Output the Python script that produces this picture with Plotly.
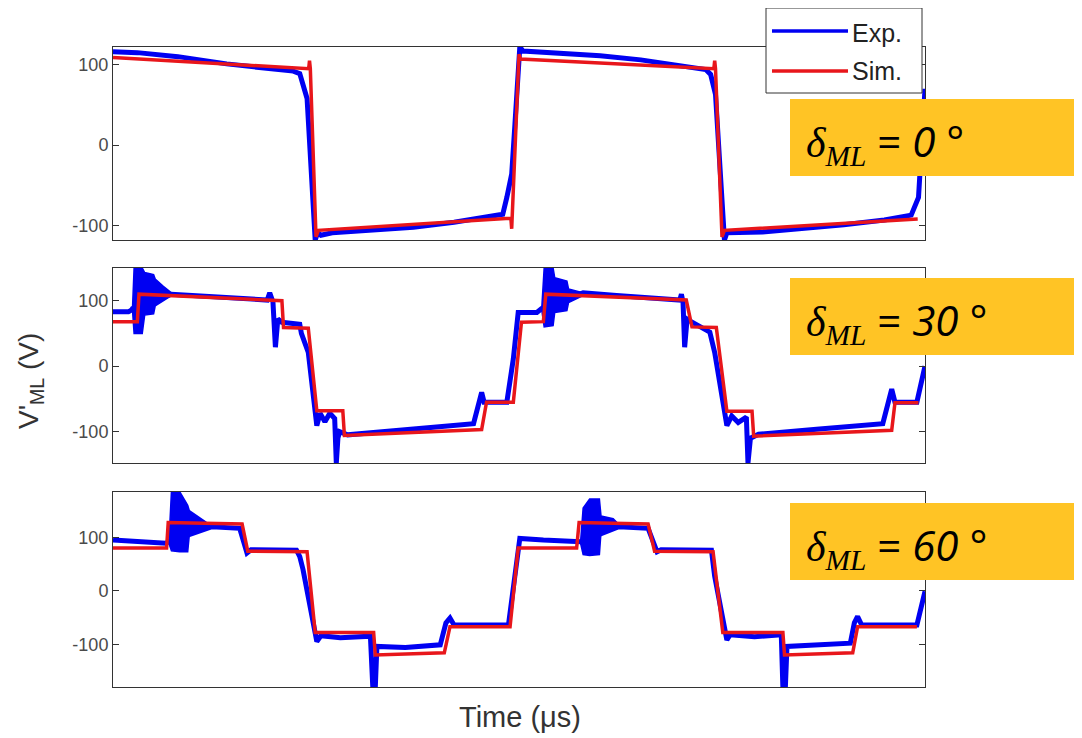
import plotly.graph_objects as go

# ---------------- data (time in µs, voltage in V) ----------------
# delta_ML = 0 deg (top panel)
t_exp0 = [0, 3, 8, 14, 22.2, 23.0, 23.9, 24.9, 25.2, 25.6, 27, 32, 37, 42, 45.2, 48.0, 48.5, 49.1, 49.5, 49.9,
          50.1, 50.5, 55, 60, 65, 70, 73.0, 73.6, 74.2, 75.3, 75.6, 80, 85, 90, 95, 98.3, 99.2, 100]
v_exp0 = [116, 115, 110, 101, 92, 89, 58, -118, -109, -112, -109, -106, -102, -96, -91, -86, -65, -36, 26, 95,
          122, 117, 114, 111, 106, 99, 94, 88, 63, -118, -109, -108, -104, -99, -93, -87, -65, 70]
t_sim0 = [0, 24.1, 24.2, 24.3, 25.0, 25.3, 49.0, 49.1, 50.0, 50.2, 74.0, 74.1, 74.2, 75.0, 75.3, 99.1]
v_sim0 = [109, 95, 105, 95, -114, -106, -91, -104, 113, 107, 95, 105, 95, -114, -106, -92]

# delta_ML = 30 deg (middle panel)
t_exp30 = [0, 1.9, 2.3, 2.4, 7.2, 12.0, 19.0, 19.3, 19.7, 20.0, 20.3, 20.8, 23.0, 23.2, 24.05, 25.1, 25.5, 26.1,
           26.7, 27.3, 27.5, 27.7, 27.9, 28.9, 36.6, 44.4, 45.4, 45.7, 48.5, 49.3, 49.9, 52.2, 52.8,
           57.9, 62.0, 69.8, 70.0, 70.2, 70.4, 70.7, 71.2, 73.5, 74.1, 75.6, 76.2, 77.0, 78.0, 78.2, 78.5,
           79.5, 87.0, 94.8, 95.9, 96.3, 99.0, 100]
v_exp30 = [83, 83, 86, 88, 110, 107, 101, 112, 98, 29, 72, 67, 64, 50, 21, -91, -72, -85,
           -72, -80, -148, -110, -100, -105, -96, -88, -40, -55, -55, 11, 82, 82, 88,
           112, 108, 101, 110, 98, 29, 72, 68, 52, 21, -91, -76, -86, -78, -148, -110,
           -104, -96, -88, -35, -55, -55, 0]
burst30a_t = [2.4, 2.6, 3.6, 3.9, 5.0, 5.2, 6.2, 7.2]
burst30a_hi = [88, 150, 150, 143, 140, 133, 122, 112]
burst30a_lo = [86, 50, 50, 78, 80, 92, 100, 108]
burst30b_t = [52.8, 53.1, 54.2, 54.4, 55.9, 56.1, 57.9]
burst30b_hi = [88, 150, 150, 135, 130, 118, 112]
burst30b_lo = [86, 60, 62, 82, 85, 97, 108]
t_sim30 = [0, 3.0, 3.2, 20.8, 21.0, 24.05, 25.1, 28.3, 28.5, 45.4, 46.0, 49.3, 50.3, 53.0, 53.3,
           70.6, 71.3, 74.3, 75.6, 78.7, 78.9, 95.9, 96.3, 99.2]
v_sim30 = [68, 68, 110, 100, 59, 58, -68, -68, -106, -97, -55, -55, 67, 68, 110,
           101, 60, 59, -69, -69, -107, -98, -56, -56]

# delta_ML = 60 deg (bottom panel)
t_exp60 = [0, 3, 6.5, 6.9, 12.2, 15.6, 16.5, 17.0, 22.6, 23.0, 23.4, 25.1, 25.6, 28, 31.7, 32.0, 32.3, 32.5,
           36, 40.3, 41.0, 41.5, 42.0, 48.7, 49.5, 50.1, 53, 57.2, 57.6, 62.3, 65.9, 67.0, 67.5, 73.7,
           74.1, 75.6, 76.0, 79, 82.3, 82.5, 82.8, 83.0, 87, 90.8, 91.3, 91.7, 92.2, 99.0, 100]
v_exp60 = [95, 92, 89, 92, 120, 117, 71, 77, 76, 64, 40, -95, -84, -88, -85, -182, -182, -104,
           -106, -101, -60, -51, -64, -64, 40, 98, 95, 92, 92, 120, 117, 73, 77, 76,
           27, -92, -82, -86, -82, -182, -182, -104, -101, -98, -60, -48, -64, -64, -1]
burst60a_t = [6.9, 7.2, 8.2, 9.2, 9.4, 10.5, 11.5, 12.2]
burst60a_hi = [95, 186, 186, 160, 150, 138, 128, 122]
burst60a_lo = [88, 75, 73, 73, 105, 112, 116, 118]
burst60b_t = [57.6, 57.9, 58.7, 59.9, 60.1, 61.6, 62.3]
burst60b_hi = [95, 155, 172, 172, 140, 135, 124]
burst60b_lo = [88, 68, 66, 68, 110, 115, 118]
t_sim60 = [0, 6.6, 6.8, 15.9, 16.6, 23.9, 24.9, 32.1, 32.3, 40.8, 41.5, 48.9, 49.9, 57.1, 57.4,
           65.9, 66.7, 73.9, 75.1, 82.5, 82.7, 91.1, 91.7, 99.0]
v_sim60 = [80, 80, 128, 125, 74, 73, -78, -78, -120, -116, -67, -67, 80, 80, 128,
           125, 74, 73, -78, -78, -120, -116, -67, -67]

panel_labels = ["0", "30", "60"]
y_ranges = [[-118, 122], [-148, 150], [-180, 185]]
y_domains = [[0.6984, 1.0], [0.35, 0.6547], [0.0, 0.3047]]
tick_vals = [-100, 0, 100]
tick_text = ["-100", "0", "100"]

BLUE = "#0000f2"
RED = "#e8161b"
YELLOW = "#FFC425"
FRAME = "#333333"

panels = [
    (t_exp0, v_exp0, [], t_sim0, v_sim0),
    (t_exp30, v_exp30, [(burst30a_t, burst30a_hi, burst30a_lo), (burst30b_t, burst30b_hi, burst30b_lo)],
     t_sim30, v_sim30),
    (t_exp60, v_exp60, [(burst60a_t, burst60a_hi, burst60a_lo), (burst60b_t, burst60b_hi, burst60b_lo)],
     t_sim60, v_sim60),
]

fig = go.Figure()
for i, (te, ve, bursts, ts, vs) in enumerate(panels):
    xa = "x" if i == 0 else f"x{i+1}"
    ya = "y" if i == 0 else f"y{i+1}"
    fig.add_trace(go.Scatter(x=te, y=ve, mode="lines", line=dict(color=BLUE, width=5),
                             xaxis=xa, yaxis=ya, hoverinfo="skip", showlegend=False))
    for bt, bh, bl in bursts:
        fig.add_trace(go.Scatter(x=bt + bt[::-1], y=bh + bl[::-1], mode="lines", fill="toself",
                                 fillcolor=BLUE, line=dict(color=BLUE, width=1.5),
                                 xaxis=xa, yaxis=ya, hoverinfo="skip", showlegend=False))
    fig.add_trace(go.Scatter(x=ts, y=vs, mode="lines", line=dict(color=RED, width=3.5),
                             xaxis=xa, yaxis=ya, hoverinfo="skip", showlegend=False))

# the page body has an 8px margin, so the figure is 8px smaller and margins compensate
layout = dict(
    width=1074, height=730, autosize=False,
    margin=dict(l=105, r=157, t=39, b=51),
    paper_bgcolor="white", plot_bgcolor="white",
    showlegend=False,
    font=dict(family="Liberation Sans, Arial, sans-serif", color="#333"),
)
for i in range(3):
    sx = "" if i == 0 else str(i + 1)
    layout[f"xaxis{sx}"] = dict(domain=[0, 1], range=[0, 100], anchor=f"y{sx}", showline=True, mirror=True,
                                linecolor=FRAME, linewidth=1, ticks="", showticklabels=False,
                                showgrid=False, zeroline=False, fixedrange=True)
    layout[f"yaxis{sx}"] = dict(domain=y_domains[i], range=y_ranges[i], anchor=f"x{sx}", showline=True,
                                mirror="ticks", linecolor=FRAME, linewidth=1, ticks="inside", ticklen=6,
                                tickcolor=FRAME, tickvals=tick_vals, ticktext=tick_text,
                                tickfont=dict(family="Liberation Sans, Arial", size=18, color="#4a4a4a"),
                                showgrid=False, zeroline=False, fixedrange=True)
fig.update_layout(**layout)


def px_x(px):
    # page pixel -> paper fraction (plot area spans page x 113..925)
    return (px - 113) / 812.0


def px_y(py):
    # page pixel -> paper fraction (plot area spans page y 47..687)
    return (687 - py) / 640.0


shapes = []
annotations = []

# legend (drawn manually to match the long line samples)
shapes.append(dict(type="rect", xref="paper", yref="paper", x0=px_x(766), x1=px_x(922), y0=px_y(93), y1=px_y(8),
                   fillcolor="white", line=dict(color=FRAME, width=1), layer="above"))
shapes.append(dict(type="line", xref="paper", yref="paper", x0=px_x(772), x1=px_x(848), y0=px_y(31), y1=px_y(31),
                   line=dict(color=BLUE, width=3.5), layer="above"))
shapes.append(dict(type="line", xref="paper", yref="paper", x0=px_x(772), x1=px_x(848), y0=px_y(71), y1=px_y(71),
                   line=dict(color=RED, width=3.5), layer="above"))
annotations.append(dict(xref="paper", yref="paper", x=px_x(850), y=px_y(33), text="Exp.", showarrow=False,
                        xanchor="left", yanchor="middle", font=dict(size=25, color="#222")))
annotations.append(dict(xref="paper", yref="paper", x=px_x(850), y=px_y(71), text="Sim.", showarrow=False,
                        xanchor="left", yanchor="middle", font=dict(size=25, color="#222")))

# yellow delta labels
box_tops = [99, 278, 503]
box_bottoms = [176, 355, 580]
for lab, top, bot in zip(panel_labels, box_tops, box_bottoms):
    shapes.append(dict(type="rect", xref="paper", yref="paper", x0=px_x(790), x1=px_x(1082),
                       y0=px_y(bot), y1=px_y(top), fillcolor=YELLOW, line=dict(width=0), layer="above"))
    txt = ('<span style="font-family:Liberation Serif"><i>δ</i><sub><i>ML</i></sub></span>'
           f' = <i>{lab}</i> °')
    annotations.append(dict(xref="paper", yref="paper", x=px_x(804), y=px_y((top + bot) / 2 + 4), text=txt,
                            showarrow=False, xanchor="left", yanchor="middle",
                            font=dict(family="Open Sans, sans-serif", size=42, color="black")))

# axis titles
annotations.append(dict(xref="paper", yref="paper", x=px_x(520), y=px_y(717), text="Time (μs)", showarrow=False,
                        xanchor="center", yanchor="middle", font=dict(size=29, color="#333")))
annotations.append(dict(xref="paper", yref="paper", x=px_x(30), y=px_y(381), text="V'<sub>ML</sub> (V)",
                        showarrow=False, textangle=-90, xanchor="center", yanchor="middle",
                        font=dict(size=28, color="#333")))

fig.update_layout(shapes=shapes, annotations=annotations)
fig.write_html("out.html")
